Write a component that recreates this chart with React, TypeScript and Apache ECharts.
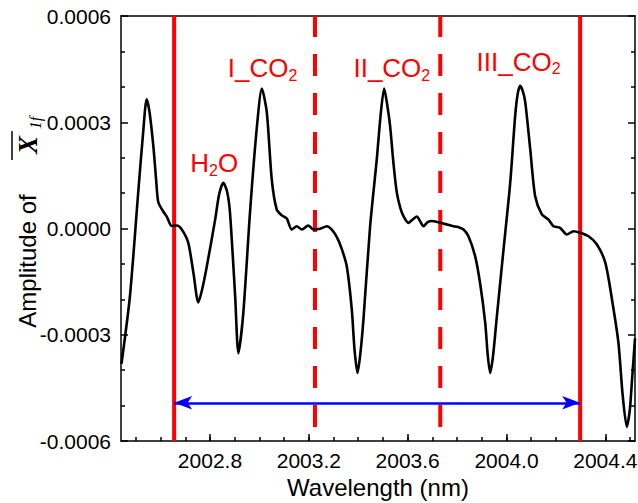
import React, { useEffect, useRef } from "react";
import * as echarts from "echarts";

const wavelength = [
  2002.442, 2002.476, 2002.509, 2002.529, 2002.544, 2002.555, 2002.571, 2002.582, 2002.591, 2002.611,
  2002.625, 2002.645, 2002.666, 2002.686, 2002.712, 2002.733, 2002.753, 2002.768, 2002.787, 2002.821,
  2002.837, 2002.854, 2002.869, 2002.881, 2002.902, 2002.915, 2002.935, 2002.962, 2002.989, 2003.010,
  2003.030, 2003.050, 2003.070, 2003.091, 2003.111, 2003.131, 2003.151, 2003.172, 2003.198, 2003.219,
  2003.246, 2003.273, 2003.293, 2003.314, 2003.334, 2003.354, 2003.374, 2003.385, 2003.397, 2003.408,
  2003.421, 2003.448, 2003.475, 2003.491, 2003.505, 2003.517, 2003.529, 2003.543, 2003.556, 2003.570,
  2003.583, 2003.603, 2003.623, 2003.637, 2003.651, 2003.664, 2003.681, 2003.698, 2003.732, 2003.760,
  2003.785, 2003.804, 2003.826, 2003.846, 2003.873, 2003.893, 2003.914, 2003.924, 2003.934, 2003.946,
  2003.961, 2003.988, 2004.015, 2004.035, 2004.045, 2004.055, 2004.066, 2004.076, 2004.096, 2004.116,
  2004.143, 2004.170, 2004.190, 2004.217, 2004.244, 2004.271, 2004.298, 2004.332, 2004.366, 2004.400,
  2004.427, 2004.453, 2004.470, 2004.487, 2004.499, 2004.507, 2004.520,
];

const amplitude = [
  -0.000382, -0.000192, 0.000096, 0.000266, 0.000365, 0.000331, 0.000232, 0.000139, 0.000074, 0.000048,
  0.000034, 0.000007, 0.0000085, -0.000003, -0.00004, -0.000125, -0.000209, -0.000173, -0.000108, 0.000025,
  0.000096, 0.000129, 0.000105, 0.000045, -0.000192, -0.000352, -0.000238, 0.000045, 0.00028, 0.000395,
  0.000328, 0.000139, 0.000054, 0.000037, 0.000028, -0.000003, 0.0000065, -0.000003, 0.0000085, -0.000003,
  -0.000001, 0.0000065, -0.000003, -0.000025, -0.000059, -0.000108, -0.000229, -0.000342, -0.000408, -0.000357,
  -0.000258, 0.0000057, 0.000195, 0.000323, 0.000395, 0.000351, 0.000289, 0.000181, 0.000102, 0.000059,
  0.000035, 0.000016, 0.000027, 0.000034, 0.00002, 0.0000065, 0.000018, 0.000021, 0.000016, 0.000011,
  0.0000065, 0.000004, -0.000003, -0.000022, -0.000078, -0.000154, -0.000267, -0.000357, -0.000408, -0.000357,
  -0.000248, -0.000059, 0.000129, 0.000317, 0.000379, 0.000403, 0.000388, 0.000356, 0.000224, 0.000091,
  0.00004, 0.000025, 0.0000065, 0.000002, -0.000017, -0.0000076, -0.000012, -0.000022, -0.000045, -0.000097,
  -0.000201, -0.000323, -0.00047, -0.00056, -0.000512, -0.000437, -0.00031,
];

const xMin = 2002.44;
const xMax = 2004.52;
const yMin = -0.0006;
const yMax = 0.0006;

const xMajorTicks = [2002.8, 2003.2, 2003.6, 2004.0, 2004.4];
const xMinorTicks = [
  2002.5, 2002.6, 2002.7, 2002.8, 2002.9, 2003.0, 2003.1, 2003.2, 2003.3, 2003.4, 2003.5,
  2003.6, 2003.7, 2003.8, 2003.9, 2004.0, 2004.1, 2004.2, 2004.3, 2004.4, 2004.5,
];

const solidLines = [2002.655, 2004.298];
const dashedLines = [2003.225, 2003.732];
const arrowLevel = -0.000492;

const labelTexts = ["H{s|2}O", "I_CO{s|2}", "II_CO{s|2}", "III_CO{s|2}"];
const labelX = [2002.817, 2003.013, 2003.536, 2004.049];
const labelY = [0.000184, 0.000453, 0.000453, 0.000471];

const FONT = "'Liberation Sans', Arial, sans-serif";

export default function App() {
  const ref = useRef<HTMLDivElement>(null);
  useEffect(() => {
    if (!ref.current) return;
    const chart = echarts.init(ref.current, undefined, { renderer: "svg" });
    const data = wavelength.map((w, i) => [w, amplitude[i]]);
    const axisLineStyle = { color: "#000", width: 1.5 };

    const yLabelFmt = (v: any) => {
      const n = Number(v);
      return Math.abs(n) < 1e-10 ? "0.0000" : n.toFixed(4);
    };

    const vSeries: any[] = [];
    solidLines.forEach((x) => {
      vSeries.push({
        type: "line",
        data: [[x, yMin], [x, yMax]],
        showSymbol: false,
        silent: true,
        lineStyle: { color: "#ff0000", width: 4 },
        z: 3,
      });
    });
    dashedLines.forEach((x) => {
      vSeries.push({
        type: "line",
        data: [[x, yMin], [x, yMax]],
        showSymbol: false,
        silent: true,
        lineStyle: { color: "#ff0000", width: 4, type: [22, 17], dashOffset: 25 },
        z: 3,
      });
    });

    chart.setOption({
      animation: false,
      grid: { left: 121, right: 3, top: 16, bottom: 62, containLabel: false, outerBoundsMode: "none" },
      xAxis: [
        {
          type: "value",
          position: "bottom",
          min: xMin,
          max: xMax,
          name: "Wavelength (nm)",
          nameLocation: "middle",
          nameGap: 32,
          nameTextStyle: { fontFamily: FONT, fontSize: 24, color: "#000" },
          axisLine: { show: true, onZero: false, lineStyle: axisLineStyle },
          axisTick: { show: true, inside: true, length: 4, lineStyle: axisLineStyle, customValues: xMinorTicks },
          axisLabel: {
            show: true,
            customValues: xMajorTicks,
            formatter: (v: any) => Number(v).toFixed(1),
            fontFamily: FONT,
            fontSize: 21,
            color: "#000",
            margin: 9,
          },
          splitLine: { show: false },
        },
        {
          type: "value",
          position: "bottom",
          min: xMin,
          max: xMax,
          axisLine: { show: false, onZero: false },
          axisTick: { show: true, inside: true, length: 7, lineStyle: axisLineStyle, customValues: xMajorTicks },
          axisLabel: { show: false },
          splitLine: { show: false },
        },
        {
          type: "value",
          position: "top",
          min: xMin,
          max: xMax,
          axisLine: { show: true, onZero: false, lineStyle: axisLineStyle },
          axisTick: { show: false },
          axisLabel: { show: false },
          splitLine: { show: false },
        },
      ],
      yAxis: [
        {
          type: "value",
          position: "left",
          min: yMin,
          max: yMax,
          interval: 0.0003,
          axisLine: { show: true, onZero: false, lineStyle: axisLineStyle },
          axisTick: { show: true, inside: true, length: 7, lineStyle: axisLineStyle },
          minorTick: { show: true, splitNumber: 3, length: 4, lineStyle: axisLineStyle },
          axisLabel: { formatter: yLabelFmt, fontFamily: FONT, fontSize: 21, color: "#000", margin: 10 },
          splitLine: { show: false },
          minorSplitLine: { show: false },
        },
        {
          type: "value",
          position: "right",
          min: yMin,
          max: yMax,
          interval: 0.0003,
          axisLine: { show: true, onZero: false, lineStyle: axisLineStyle },
          axisTick: { show: true, inside: true, length: 7, lineStyle: axisLineStyle },
          minorTick: { show: true, splitNumber: 3, length: 4, lineStyle: axisLineStyle },
          axisLabel: { show: false },
          splitLine: { show: false },
          minorSplitLine: { show: false },
        },
      ],
      series: [
        ...vSeries,
        {
          type: "line",
          data,
          smooth: 0.25,
          showSymbol: false,
          silent: true,
          lineStyle: { color: "#000", width: 2.6 },
          z: 4,
          markLine: {
            silent: true,
            symbol: ["arrow", "arrow"],
            symbolSize: [10, 18],
            label: { show: false },
            lineStyle: { color: "#0000ff", width: 2.5, type: "solid" },
            data: [[{ coord: [solidLines[0], arrowLevel] }, { coord: [solidLines[1], arrowLevel] }]],
          },
          markPoint: {
            silent: true,
            symbol: "circle",
            symbolSize: 0,
            data: labelTexts.map((t, i) => ({
              coord: [labelX[i], labelY[i]],
              label: {
                show: true,
                position: "inside",
                formatter: "{m|" + t.replace("{s|2}", "}{s|2}{m|") + "}",
                rich: {
                  m: { fontFamily: FONT, fontSize: 26, lineHeight: 30, color: "#ff0000" },
                  s: { fontFamily: FONT, fontSize: 16, lineHeight: 16, color: "#ff0000", verticalAlign: "bottom" },
                },
              },
            })),
          },
        },
      ],
      graphic: [
        {
          type: "text",
          x: 27,
          y: 261,
          rotation: Math.PI / 2,
          style: { text: "Amplitude of", fontFamily: FONT, fontSize: 24, fill: "#000", align: "center", verticalAlign: "middle" },
        },
        {
          type: "text",
          x: 28,
          y: 145,
          rotation: Math.PI / 2,
          style: {
            text: "X",
            fontFamily: "'Liberation Serif', 'Times New Roman', serif",
            fontWeight: "bold",
            fontStyle: "italic",
            fontSize: 27,
            fill: "#000",
            align: "center",
            verticalAlign: "middle",
          },
        },
        {
          type: "text",
          x: 35,
          y: 123,
          rotation: Math.PI / 2,
          style: {
            text: "1f",
            fontFamily: "'Liberation Serif', 'Times New Roman', serif",
            fontStyle: "italic",
            fontSize: 16,
            fill: "#000",
            align: "center",
            verticalAlign: "middle",
          },
        },
        {
          type: "line",
          shape: { x1: 12, y1: 131, x2: 12, y2: 160 },
          style: { stroke: "#000", lineWidth: 1.5 },
        },
      ],
    });
    return () => chart.dispose();
  }, []);
  return <div ref={ref} style={{ width: 638, height: 503, position: "absolute", left: 0, top: 0, background: "#fff" }} />;
}
